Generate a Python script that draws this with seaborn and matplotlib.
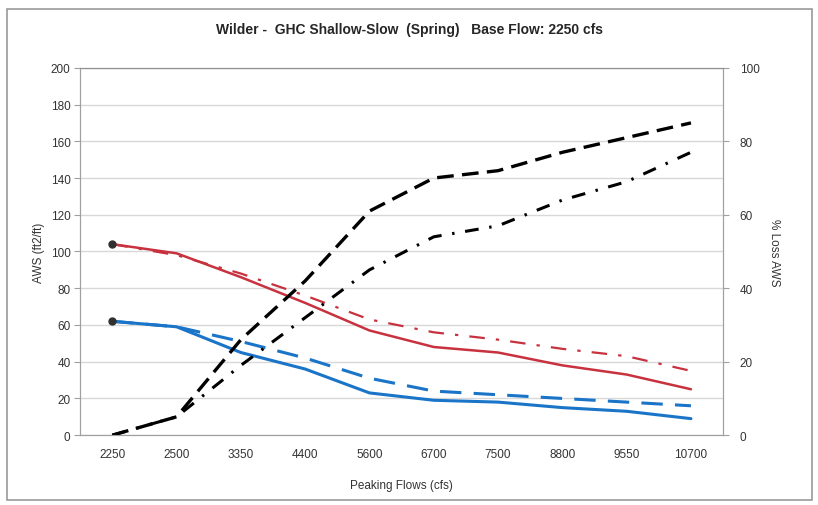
import numpy as np
import pandas as pd
import seaborn as sns
import matplotlib.pyplot as plt
from matplotlib.patches import Rectangle

sns.set_style("white")
plt.rcParams['font.family'] = ['Liberation Sans', 'DejaVu Sans']

# peaking flow categories (cfs)
flows = ['2250', '2500', '3350', '4400', '5600', '6700', '7500', '8800', '9550', '10700']

# AWS (ft2/ft), left axis
red_solid = [104, 99, 86, 72, 57, 48, 45, 38, 33, 25]
red_dashdot = [104, 98, 88, 76, 63, 56, 52, 47, 43, 35]
blue_solid = [62, 59, 45, 36, 23, 19, 18, 15, 13, 9]
blue_dashed = [62, 59, 51, 42, 31, 24, 22, 20, 18, 16]

# % loss AWS, right axis
loss_dashed = [0, 5, 26, 42, 61, 70, 72, 77, 81, 85]
loss_dashdot = [0, 5, 19, 32, 45, 54, 57, 64, 69, 77]

x = np.arange(len(flows))
df_aws = pd.DataFrame({'x': x, 'red_solid': red_solid, 'red_dashdot': red_dashdot,
                       'blue_solid': blue_solid, 'blue_dashed': blue_dashed})
df_loss = pd.DataFrame({'x': x, 'loss_dashed': loss_dashed, 'loss_dashdot': loss_dashdot})

red = '#c8323f'
blue = '#1a74c8'
gray = '#a0a0a0'

fig = plt.figure(figsize=(8.18, 5.06), dpi=100)
ax = fig.add_axes([0.098, 0.138, 0.786, 0.726])
ax2 = ax.twinx()

sns.lineplot(data=df_aws, x='x', y='red_dashdot', ax=ax, color=red, lw=1.6,
             linestyle=(0, (7, 5, 1.5, 5)))
sns.lineplot(data=df_aws, x='x', y='blue_dashed', ax=ax, color=blue, lw=2.2,
             linestyle=(0, (7, 4)))
sns.lineplot(data=df_aws, x='x', y='red_solid', ax=ax, color=red, lw=1.8)
sns.lineplot(data=df_aws, x='x', y='blue_solid', ax=ax, color=blue, lw=2.2)
ax.plot(x[:1], red_solid[:1], 'o', color='#303030', ms=5, zorder=5)
ax.plot(x[:1], blue_solid[:1], 'o', color='#303030', ms=5, zorder=5)

sns.lineplot(data=df_loss, x='x', y='loss_dashed', ax=ax2, color='black', lw=2.4,
             linestyle=(0, (5, 2.5)))
sns.lineplot(data=df_loss, x='x', y='loss_dashdot', ax=ax2, color='black', lw=2.2,
             linestyle=(0, (4.5, 3.5, 0.8, 3.5)))

ax.set_xlim(-0.5, len(flows) - 0.5)
ax.set_ylim(0, 200)
ax.set_yticks(np.arange(0, 201, 20))
ax2.set_ylim(0, 100)
ax2.set_yticks(np.arange(0, 101, 20))

ax.set_xticks(np.arange(-0.5, len(flows), 1.0))
ax.set_xticklabels([])
ax.set_xticks(x, minor=True)
ax.set_xticklabels(flows, minor=True)
ax.tick_params(axis='x', which='major', length=4, color=gray)
ax.tick_params(axis='x', which='minor', length=0, labelsize=8.5, colors='#333333', pad=9)
ax.tick_params(axis='y', length=4, color=gray, labelsize=8.5, labelcolor='#333333', pad=3)
ax2.tick_params(axis='y', length=4, color=gray, labelsize=8.5, labelcolor='#333333', pad=8)

ax.yaxis.grid(True, color='#d8d8d8', lw=1)
ax.set_axisbelow(True)

for a in (ax, ax2):
    for s in a.spines.values():
        s.set_color(gray)
    a.spines['top'].set_color('#909090')

ax.set_xlabel('Peaking Flows (cfs)', fontsize=8.5, color='#333333', labelpad=14)
ax.set_ylabel('AWS (ft2/ft)', fontsize=8.5, color='#333333', labelpad=4)
ax2.set_ylabel('% Loss AWS', fontsize=8.5, color='#333333', labelpad=6, rotation=270, va='bottom')

fig.text(0.5, 0.94, 'Wilder -  GHC Shallow-Slow  (Spring)   Base Flow: 2250 cfs',
         ha='center', va='center', fontsize=10, fontweight='bold')

fig.patches.append(Rectangle((0.008, 0.01), 0.985, 0.97, transform=fig.transFigure,
                             fill=False, edgecolor='#9a9a9a', lw=1.2))

fig.savefig('out.png', dpi=100)
